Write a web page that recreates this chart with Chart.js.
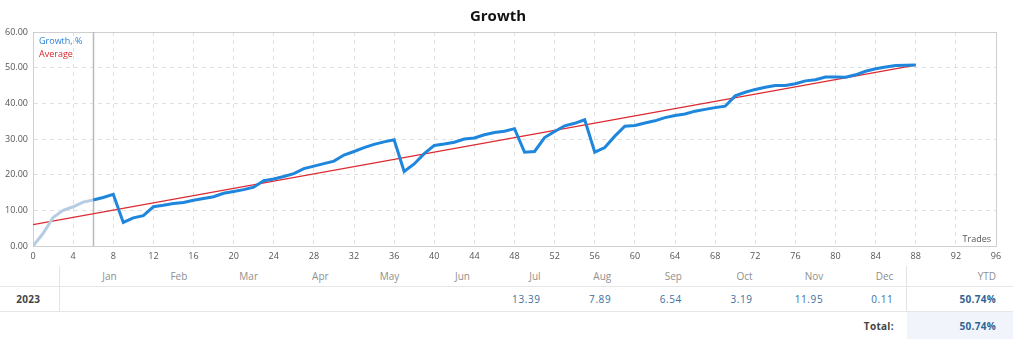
<!DOCTYPE html>
<html>
<head>
<meta charset="utf-8">
<script src="https://cdn.jsdelivr.net/npm/chart.js@4.4.1/dist/chart.umd.min.js"></script>
<style>
  body { margin: 0; background: #fff; }
  #wrap { position: relative; width: 1013px; height: 266px; }
  table { border-collapse: collapse; width: 1013px; table-layout: fixed; font-family: "Open Sans", sans-serif; font-size: 10px; }
  td, th { padding: 0; font-weight: normal; }
  .hdr td { height: 20px; color: #8f8f8f; text-align: right; padding-right: 13px; border-bottom: 1px solid #e6e6e6; }
  .row td { height: 24px; color: #3d6f9e; text-align: right; padding-right: 13px; border-bottom: 1px solid #e6e6e6; letter-spacing: 0.6px; }
  .tot td { height: 27px; text-align: right; padding-right: 13px; }
  td.year { text-align: center; padding-right: 2px; font-weight: bold; color: #444; letter-spacing: 0.3px; }
  td.sep { border-right: 1px solid #e3e3e3; }
  td.ytd { border-left: 1px solid #e3e3e3; padding-right: 17px; }
  td.ytdv { font-weight: bold; color: #2f6496; letter-spacing: 0.3px; }
  td.totlbl { font-weight: bold; color: #444; letter-spacing: 0.3px; }
  td.totv { background: #f1f5fb; font-weight: bold; color: #2f6496; padding-right: 17px; letter-spacing: 0.3px; }
</style>
</head>
<body>
<div id="wrap"><canvas id="growth"></canvas></div>
<table id="tbl"></table>
<script>
// growth (%) after each trade, trade 0 .. 88
const growth = [
  0, 3.5, 8.0, 10.0, 11.0, 12.3, 12.9, 13.6, 14.5, 6.6,
  7.9, 8.5, 11.0, 11.4, 11.9, 12.2, 12.8, 13.3, 13.8, 14.8,
  15.3, 15.8, 16.5, 18.3, 18.8, 19.5, 20.3, 21.7, 22.4, 23.1,
  23.8, 25.5, 26.5, 27.6, 28.5, 29.2, 29.8, 20.9, 23.0, 25.9,
  28.2, 28.6, 29.1, 30.0, 30.3, 31.2, 31.8, 32.2, 32.9, 26.3,
  26.5, 30.4, 32.1, 33.7, 34.4, 35.4, 26.3, 27.6, 30.8, 33.6,
  33.8, 34.5, 35.1, 36.0, 36.6, 37.0, 37.8, 38.3, 38.8, 39.2,
  42.1, 43.1, 43.9, 44.5, 45.0, 45.0, 45.5, 46.3, 46.6, 47.4,
  47.4, 47.3, 48.0, 49.0, 49.7, 50.2, 50.6, 50.7, 50.74
];
const averageTrades = [0, 88];
const averageValues = [6.0, 50.74];
const startTrade = 6;   // history before this trade is drawn faded

const months = ["Jan", "Feb", "Mar", "Apr", "May", "Jun", "Jul", "Aug", "Sep", "Oct", "Nov", "Dec"];
const year = "2023";
const monthly = ["", "", "", "", "", "", "13.39", "7.89", "6.54", "3.19", "11.95", "0.11"];
const ytd = "50.74%";
const total = "50.74%";

const growthPoints = growth.map((v, i) => ({ x: i, y: v }));
const averagePoints = averageTrades.map((t, i) => ({ x: t, y: averageValues[i] }));

const frame = {
  id: "frame",
  beforeDatasetsDraw(chart) {
    const { ctx, chartArea: a, scales } = chart;
    ctx.save();
    ctx.strokeStyle = "#cfcfcf";
    ctx.lineWidth = 1;
    ctx.strokeRect(a.left + 0.5, a.top + 0.5, a.right - a.left, a.bottom - a.top);
    const x = Math.round(scales.x.getPixelForValue(startTrade)) + 0.5;
    ctx.strokeStyle = "#b9b9b9";
    ctx.lineWidth = 1.5;
    ctx.beginPath();
    ctx.moveTo(x, scales.y.getPixelForValue(60));
    ctx.lineTo(x, scales.y.getPixelForValue(0));
    ctx.stroke();
    ctx.restore();
  },
  afterDraw(chart) {
    const { ctx, chartArea: a } = chart;
    ctx.save();
    ctx.font = "9px 'Open Sans'";
    ctx.textBaseline = "middle";
    ctx.fillStyle = "#2a7fd4";
    ctx.fillText(chart.data.datasets[0].label, a.left + 6, a.top + 9);
    ctx.fillStyle = "#d9252b";
    ctx.fillText(chart.data.datasets[1].label, a.left + 6, a.top + 22);
    ctx.fillStyle = "#555";
    ctx.textAlign = "right";
    ctx.fillText("Trades", a.right - 5, a.bottom - 7);
    ctx.restore();
  }
};

const gridStyle = { color: "#e0e0e0", drawTicks: false };
const tickFont = { family: "Open Sans", size: 9 };

new Chart(document.getElementById("growth"), {
  type: "line",
  data: {
    datasets: [
      {
        label: "Growth, %",
        data: growthPoints,
        borderColor: "#1e86dc",
        borderWidth: 3,
        pointRadius: 0,
        tension: 0,
        segment: {
          borderColor: c => c.p0.parsed.x < startTrade ? "#b6cce3" : "#1e86dc"
        }
      },
      {
        label: "Average",
        data: averagePoints,
        borderColor: "#dc2a30",
        borderWidth: 1.3,
        pointRadius: 0
      }
    ]
  },
  options: {
    responsive: true,
    maintainAspectRatio: false,
    animation: false,
    layout: { padding: { left: 0, right: 17, top: 0, bottom: 0 } },
    plugins: {
      legend: { display: false },
      tooltip: { enabled: false },
      title: {
        display: true,
        text: "Growth",
        color: "#111",
        font: { family: "Open Sans", size: 15, weight: "bold" },
        padding: { top: 8, bottom: 6 }
      }
    },
    scales: {
      x: {
        type: "linear",
        min: 0,
        max: 96,
        grid: gridStyle,
        border: { display: true, color: "#cfcfcf", dash: [4, 4] },
        ticks: { stepSize: 4, padding: 5, color: "#555", font: tickFont, maxRotation: 0 },
        afterFit: s => { s.height = 20; }
      },
      y: {
        min: 0,
        max: 60,
        grid: gridStyle,
        border: { display: true, color: "#cfcfcf", dash: [4, 4] },
        ticks: { stepSize: 10, padding: 5, color: "#555", font: tickFont, callback: v => v.toFixed(2) },
        afterFit: s => { s.width = 33; }
      }
    }
  },
  plugins: [frame]
});

// monthly table
const tbl = document.getElementById("tbl");
let html = '<colgroup><col style="width:59px">';
months.forEach(() => { html += '<col style="width:70.67px">'; });
html += '<col style="width:106px"></colgroup>';
html += '<tr class="hdr"><td class="sep"></td>' + months.map(m => "<td>" + m + "</td>").join("") + '<td class="ytd">YTD</td></tr>';
html += '<tr class="row"><td class="year sep">' + year + "</td>" + monthly.map(v => "<td>" + v + "</td>").join("") + '<td class="ytd ytdv">' + ytd + "</td></tr>";
html += '<tr class="tot"><td colspan="13" class="totlbl">Total:</td><td class="totv">' + total + "</td></tr>";
tbl.innerHTML = html;
</script>
</body>
</html>
